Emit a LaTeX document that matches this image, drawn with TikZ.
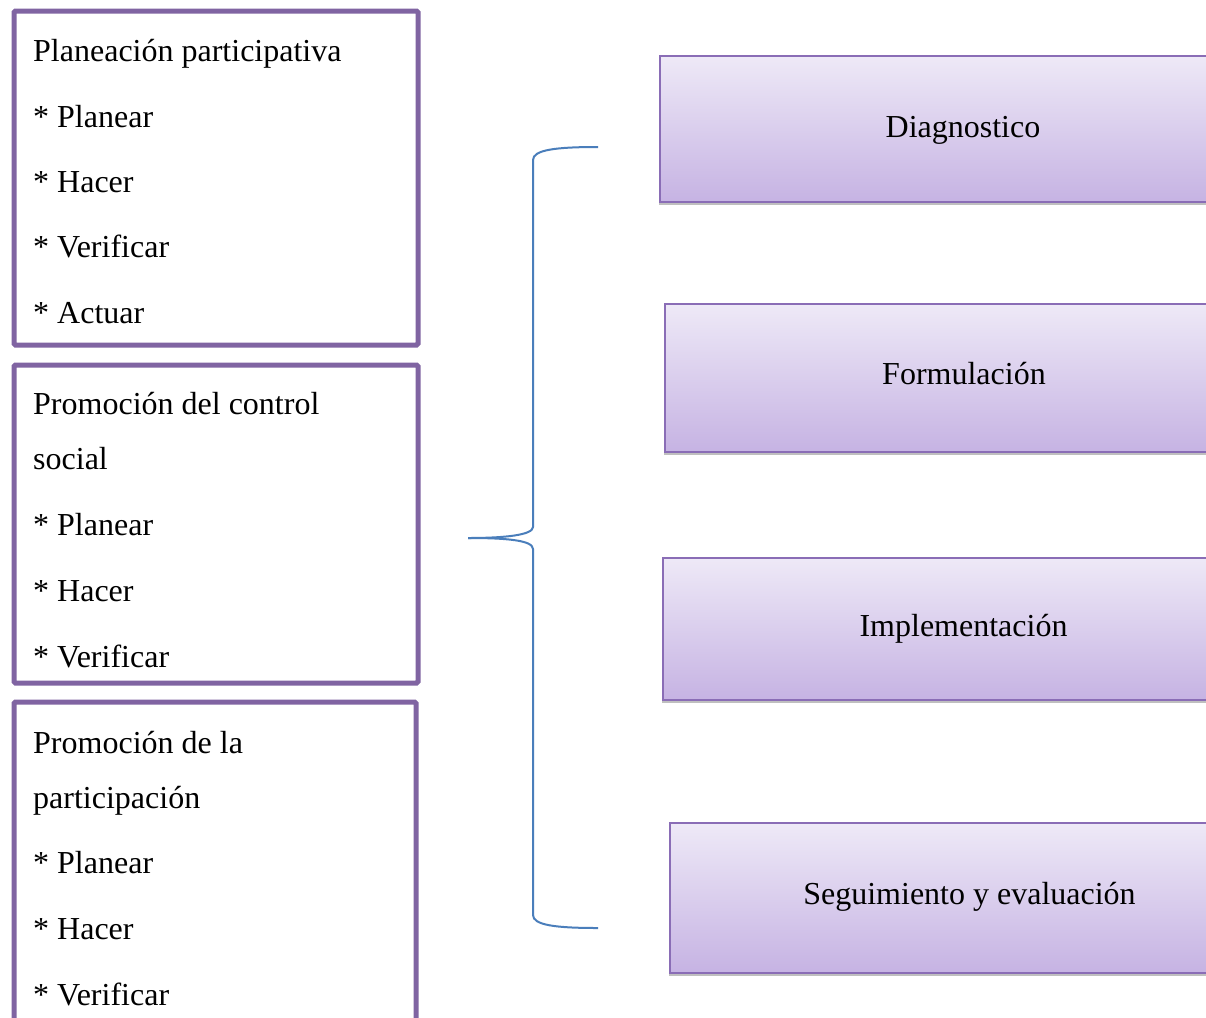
\documentclass[tikz,border=0pt]{standalone}
\usepackage{fontspec}
\setmainfont{Liberation Serif}
\usetikzlibrary{shadows}
\definecolor{boxpurple}{HTML}{8064A2}
\definecolor{edgepurple}{HTML}{8A6DB6}
\definecolor{topfill}{HTML}{EEE9F7}
\definecolor{botfill}{HTML}{C6B3E3}
\definecolor{braceblue}{HTML}{4A7EBB}
\tikzset{
  leftbox/.style={draw=boxpurple, line width=5pt, rounded corners=1.5pt, inner sep=0pt, anchor=north west},
  stepbox/.style={draw=edgepurple, line width=1.6pt, inner sep=0pt, anchor=north west,
    top color=topfill, bottom color=botfill,
    drop shadow={shadow xshift=-1pt, shadow yshift=-3pt, opacity=0.25, fill=black}},
  ltext/.style={anchor=base west, inner sep=0pt, font=\fontsize{32}{38}\selectfont},
  rtext/.style={anchor=base, inner sep=0pt, font=\fontsize{32}{38}\selectfont},
  bracel/.style={draw=braceblue, line width=2pt}
}
\begin{document}
\begin{tikzpicture}[x=1pt,y=-1pt]
\useasboundingbox (0,0) rectangle (1206,1017);
\clip (0,0) rectangle (1206,1017);
\fill[white] (0,0) rectangle (1206,1017);
% left boxes
\node[leftbox, minimum width=404pt, minimum height=334pt] (b1) at (11.5,8.5) {};
\node[leftbox, minimum width=404pt, minimum height=318pt] (b2) at (11.5,362.5) {};
\node[leftbox, minimum width=402pt, minimum height=360pt] (b3) at (11.5,699.5) {};
% left texts
\node[ltext] (t11) at (33,61) {Planeación participativa};
\node[ltext] (t12) at (33,127) {* Planear};
\node[ltext] (t13) at (33,192) {* Hacer};
\node[ltext] (t14) at (33,257) {* Verificar};
\node[ltext] (t15) at (33,323) {* Actuar};
\node[ltext] (t21) at (33,414) {Promoción del control};
\node[ltext] (t22) at (33,469) {social};
\node[ltext] (t23) at (33,535) {* Planear};
\node[ltext] (t24) at (33,601) {* Hacer};
\node[ltext] (t25) at (33,667) {* Verificar};
\node[ltext] (t31) at (33,753) {Promoción de la};
\node[ltext] (t32) at (33,808) {participación};
\node[ltext] (t33) at (33,873) {* Planear};
\node[ltext] (t34) at (33,939) {* Hacer};
\node[ltext] (t35) at (33,1005) {* Verificar};
% right boxes
\node[stepbox, minimum width=580pt, minimum height=146pt] (r1) at (659,55) {};
\node[stepbox, minimum width=580pt, minimum height=148pt] (r2) at (664,303) {};
\node[stepbox, minimum width=580pt, minimum height=142pt] (r3) at (662,557) {};
\node[stepbox, minimum width=580pt, minimum height=150pt] (r4) at (669,822) {};
\node[rtext] (l1) at (963,137) {Diagnostico};
\node[rtext] (l2) at (964,384) {Formulación};
\node[rtext] (l3) at (963.5,636) {Implementación};
\node[rtext] (l4) at (969.5,904) {Seguimiento y evaluación};
% brace
\coordinate (btop) at (598,147);
\coordinate (btip) at (468,538);
\coordinate (bbot) at (598,928);
\draw[bracel] (btop) .. controls (555,147) and (533,150) .. (533,160) -- (533,527)
  .. controls (533,535) and (505,538) .. (btip);
\draw[bracel] (btip) .. controls (505,538) and (533,540) .. (533,549) -- (533,915)
  .. controls (533,925) and (555,928) .. (bbot);
\end{tikzpicture}
\end{document}
